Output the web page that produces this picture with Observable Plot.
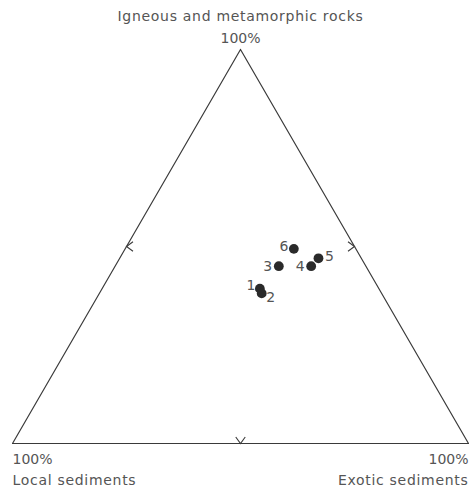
<!DOCTYPE html>
<html>
<head>
<meta charset="utf-8">
<script src="https://cdn.jsdelivr.net/npm/d3@7"></script>
<script src="https://cdn.jsdelivr.net/npm/@observablehq/plot@0.6"></script>
<style>
  html, body { margin: 0; padding: 0; background: #fff; }
  #chart { width: 470px; height: 489px; }
</style>
</head>
<body>
<div id="chart"></div>
<script>
// ---- data (percent compositions) ----
const samples  = ["1", "2", "3", "4", "5", "6"];
const igneous  = [39.3, 38.1, 45.0, 45.0, 47.0, 49.4];
const exotic   = [34.6, 35.6, 35.9, 43.0, 43.6, 37.0];
const local    = samples.map((_, i) => +(100 - igneous[i] - exotic[i]).toFixed(1));

const apexName  = "Igneous and metamorphic rocks";
const leftName  = "Local sediments";
const rightName = "Exotic sediments";
const vertexLabel = "100%";

// ---- ternary -> cartesian (fractions) ----
function toXY(ig, ex) { return { x: ex + ig / 2, y: ig }; }

const rows = samples.map((s, i) => ({ id: s, ig: igneous[i], lo: local[i], ex: exotic[i], ...toXY(igneous[i] / 100, exotic[i] / 100) }));

const V_top   = toXY(1, 0);
const V_left  = toXY(0, 0);
const V_right = toXY(0, 1);
const triangle = [V_top, V_right, V_left, V_top];

// midpoints of the sides
const midLeft   = toXY(0.5, 0);
const midRight  = toXY(0.5, 0.5);
const midBottom = toXY(0, 0.5);

// chevron symbol: vertex at the origin, arms pointing along (dx, dy)
function chevron(dx, dy) {
  return {
    draw(context, size) {
      const r = Math.sqrt(size / Math.PI);
      const a = r * 1.3, b = r * 0.95;
      const px = -dy, py = dx;
      context.moveTo(dx * a + px * b, dy * a + py * b);
      context.lineTo(0, 0);
      context.lineTo(dx * a - px * b, dy * a - py * b);
    }
  };
}

// label placement (pixels) relative to each point
const labelOffset = { "1": [-9, -3], "2": [9, 4], "3": [-11, 0], "4": [-11, 0], "5": [11, -2], "6": [-10, -2] };

const textColor = "#555";
const lineColor = "#3a3a3a";
const font = "DejaVu Sans";

const chart = Plot.plot({
  width: 470,
  height: 489,
  margin: 0,
  style: { fontFamily: font, background: "#fff" },
  x: { domain: [0, 1], range: [12, 468], axis: null },
  y: { domain: [0, 1], range: [443, 49], axis: null },
  marks: [
    Plot.line(triangle, { x: "x", y: "y", stroke: lineColor, strokeWidth: 1.2 }),
    Plot.dot([midLeft],   { x: "x", y: "y", r: 5, symbol: chevron(1, 0),  fill: "none", stroke: lineColor, strokeWidth: 1.1 }),
    Plot.dot([midRight],  { x: "x", y: "y", r: 5, symbol: chevron(-1, 0), fill: "none", stroke: lineColor, strokeWidth: 1.1 }),
    Plot.dot([midBottom], { x: "x", y: "y", r: 5, symbol: chevron(0, -1), fill: "none", stroke: lineColor, strokeWidth: 1.1 }),
    Plot.dot(rows, { x: "x", y: "y", r: 4.9, fill: "#2a2a2a", stroke: "none" }),
    ...samples.map((s, i) => Plot.text([rows[i]], {
      x: "x", y: "y", text: "id", dx: labelOffset[s][0], dy: labelOffset[s][1],
      fontSize: 14, fill: textColor
    })),
    // vertex labels
    Plot.text([V_top], { x: "x", y: "y", text: () => vertexLabel, dy: -11, fontSize: 14, fill: textColor }),
    Plot.text([V_top], { x: "x", y: "y", text: () => apexName, dy: -33, fontSize: 14, fill: textColor }),
    Plot.text([V_left], { x: "x", y: "y", text: () => vertexLabel, dy: 16, textAnchor: "start", fontSize: 14, fill: textColor }),
    Plot.text([V_left], { x: "x", y: "y", text: () => leftName, dy: 37, textAnchor: "start", fontSize: 14, fill: textColor }),
    Plot.text([V_right], { x: "x", y: "y", text: () => vertexLabel, dy: 16, textAnchor: "end", fontSize: 14, fill: textColor }),
    Plot.text([V_right], { x: "x", y: "y", text: () => rightName, dy: 37, textAnchor: "end", fontSize: 14, fill: textColor })
  ]
});
// wider letter spacing for the end-member names
const names = new Set([apexName, leftName, rightName]);
d3.select(chart).selectAll("text").filter(function () { return names.has(this.textContent); })
  .style("letter-spacing", "0.7px");
document.getElementById("chart").appendChild(chart);
</script>
</body>
</html>
